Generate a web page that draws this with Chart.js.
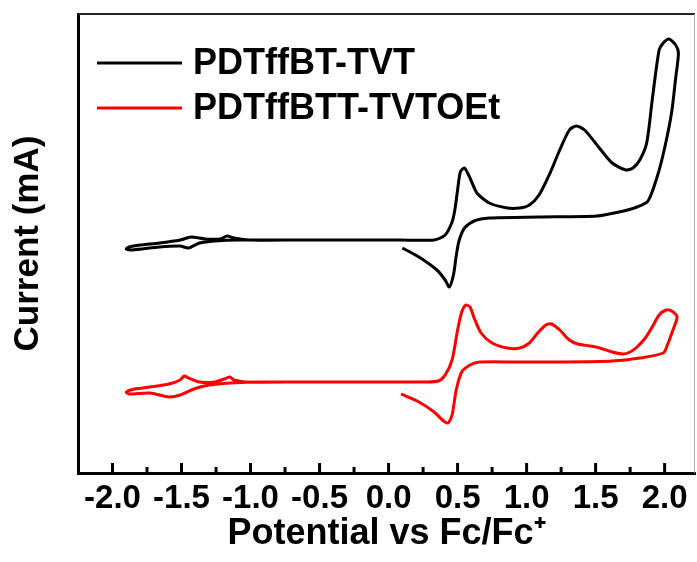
<!DOCTYPE html>
<html>
<head>
<meta charset="utf-8">
<script src="https://cdn.jsdelivr.net/npm/chart.js@4"></script>
<style>
    html, body { margin: 0; padding: 0; background: #fff; }
    #wrap { width: 697px; height: 562px; position: relative; }
</style>
</head>
<body>
<div id="wrap"><canvas id="cvChart"></canvas></div>
<script>
// 圖例文字
const seriesLabels = ['PDTffBT-TVT', 'PDTffBTT-TVTOEt'];
const seriesColors = ['#000000', '#ff0000'];

// X 軸刻度 (V vs Fc/Fc+)
const xTickValues = [-2.0, -1.5, -1.0, -0.5, 0.0, 0.5, 1.0, 1.5, 2.0];

// PDTffBT-TVT 掃描 (電位, 電流; 電流為任意偏移單位)
const tvtPotential = [
    0.10, 0.22, 0.35, 0.41, 0.44, 0.47, 0.49, 0.51, 0.55, 0.62, 0.73, 1.09, 1.51, 1.67, 1.80, 1.88,
    1.95, 2.00, 2.05, 2.08, 2.10, 2.08, 2.03, 1.99, 1.96, 1.91, 1.87, 1.82, 1.77, 1.72,
    1.62, 1.51, 1.42, 1.36, 1.31, 1.24, 1.17, 1.09, 1.02, 0.95, 0.86, 0.73, 0.64, 0.59,
    0.55, 0.52, 0.50, 0.48, 0.46, 0.41, 0.33, 0.08, -0.64, -1.01, -1.12, -1.17, -1.22,
    -1.33, -1.43, -1.51, -1.66, -1.80, -1.88, -1.90, -1.86, -1.66, -1.51, -1.45, -1.37,
    -1.26, -1.08, -0.64, 0.08
];
const tvtCurrent = [
    2.25, 2.16, 2.03, 1.93, 1.86, 1.98, 2.17, 2.32, 2.45, 2.52, 2.55, 2.56, 2.57, 2.61, 2.66, 2.72,
    2.98, 3.25, 3.60, 3.95, 4.20, 4.28, 4.34, 4.30, 4.23, 3.73, 3.30, 3.13, 3.05, 3.03,
    3.10, 3.28, 3.43, 3.47, 3.43, 3.23, 3.00, 2.78, 2.68, 2.65, 2.65, 2.70, 2.80, 2.95,
    3.05, 3.01, 2.83, 2.63, 2.51, 2.38, 2.33, 2.33, 2.33, 2.33, 2.35, 2.37, 2.34,
    2.34, 2.36, 2.33, 2.30, 2.28, 2.26, 2.24, 2.23, 2.26, 2.27, 2.25, 2.30,
    2.32, 2.33, 2.33, 2.33
];

// PDTffBTT-TVTOEt 掃描
const tvtoetPotential = [
    0.09, 0.22, 0.33, 0.39, 0.43, 0.46, 0.49, 0.53, 0.59, 0.66, 0.95, 1.24, 1.62, 1.82, 1.99,
    2.02, 2.06, 2.09, 2.05, 2.01, 1.96, 1.91, 1.86, 1.80, 1.75, 1.70, 1.62, 1.53, 1.46,
    1.37, 1.31, 1.24, 1.18, 1.14, 1.08, 1.02, 0.95, 0.86, 0.75, 0.67, 0.62, 0.59, 0.56,
    0.53, 0.50, 0.46, 0.41, 0.36, 0.26, 0.08, -0.64, -1.04, -1.12, -1.15, -1.19, -1.26,
    -1.37, -1.45, -1.48, -1.51, -1.59, -1.73, -1.84, -1.90, -1.88, -1.73, -1.59, -1.51,
    -1.41, -1.30, -1.15, -0.93, 0.08
];
const tvtoetCurrent = [
    0.79, 0.71, 0.61, 0.53, 0.50, 0.58, 0.83, 1.01, 1.08, 1.11, 1.11, 1.11, 1.12, 1.15, 1.20,
    1.28, 1.43, 1.56, 1.62, 1.63, 1.58, 1.46, 1.35, 1.26, 1.21, 1.19, 1.21, 1.25, 1.27,
    1.29, 1.33, 1.43, 1.49, 1.48, 1.40, 1.30, 1.25, 1.25, 1.30, 1.40, 1.55, 1.66, 1.68,
    1.61, 1.43, 1.13, 0.98, 0.92, 0.91, 0.91, 0.91, 0.91, 0.93, 0.96, 0.94, 0.91,
    0.91, 0.95, 0.97, 0.93, 0.89, 0.86, 0.84, 0.81, 0.79, 0.80, 0.76, 0.78,
    0.84, 0.88, 0.90, 0.91, 0.91
];

const FONT = '"Liberation Sans", Arial, sans-serif';

function toPoints(xs, ys) {
    return xs.map((x, i) => ({ x: x, y: ys[i] }));
}

// 圖框內的圖例
const insideLegend = {
    id: 'insideLegend',
    afterDatasetsDraw(chart) {
        const { ctx, chartArea } = chart;
        ctx.save();
        ctx.font = 'bold 36px ' + FONT;
        ctx.textBaseline = 'middle';
        ctx.fillStyle = '#000';
        chart.data.datasets.forEach((ds, i) => {
            const y = chartArea.top + 49 + i * 45;
            ctx.strokeStyle = ds.borderColor;
            ctx.lineWidth = 3;
            ctx.beginPath();
            ctx.moveTo(chartArea.left + 19, y);
            ctx.lineTo(chartArea.left + 104, y);
            ctx.stroke();
            ctx.fillText(ds.label, chartArea.left + 115, y + 1);
        });
        ctx.restore();
    }
};

// 向內的刻度線 + 上/右框線
const frameTicks = {
    id: 'frameTicks',
    afterDraw(chart) {
        const { ctx, chartArea } = chart;
        const xs = chart.scales.x;
        ctx.save();
        ctx.strokeStyle = '#000';
        ctx.lineWidth = 3;
        const mark = (v, len) => {
            const px = xs.getPixelForValue(v);
            ctx.beginPath();
            ctx.moveTo(px, chartArea.bottom);
            ctx.lineTo(px, chartArea.bottom - len);
            ctx.stroke();
        };
        xTickValues.forEach((v, i) => {
            mark(v, 10);
            if (i < xTickValues.length - 1) mark((v + xTickValues[i + 1]) / 2, 6);
        });
        ctx.strokeStyle = '#222';
        ctx.lineWidth = 2;
        ctx.beginPath();
        ctx.moveTo(chartArea.left, chartArea.top);
        ctx.lineTo(chartArea.right, chartArea.top);
        ctx.stroke();
        ctx.strokeStyle = '#b0b0b0';
        ctx.lineWidth = 1;
        ctx.beginPath();
        ctx.moveTo(chartArea.right - 0.5, chartArea.top);
        ctx.lineTo(chartArea.right - 0.5, chartArea.bottom);
        ctx.stroke();
        ctx.restore();
    }
};

const ctx = document.getElementById('cvChart').getContext('2d');
new Chart(ctx, {
    type: 'line',
    data: {
        datasets: [
            {
                label: seriesLabels[0],
                data: toPoints(tvtPotential, tvtCurrent),
                borderColor: seriesColors[0],
                borderWidth: 3,
                pointRadius: 0,
                tension: 0.25,
                fill: false
            },
            {
                label: seriesLabels[1],
                data: toPoints(tvtoetPotential, tvtoetCurrent),
                borderColor: seriesColors[1],
                borderWidth: 3,
                pointRadius: 0,
                tension: 0.25,
                fill: false
            }
        ]
    },
    options: {
        responsive: true,
        maintainAspectRatio: false,
        animation: false,
        layout: { padding: { top: 14, right: 2, left: 0, bottom: 0 } },
        plugins: {
            legend: { display: false },
            tooltip: { enabled: false }
        },
        scales: {
            x: {
                type: 'linear',
                min: -2.25,
                max: 2.22,
                afterBuildTicks: (scale) => {
                    scale.ticks = xTickValues.map(v => ({ value: v }));
                },
                afterFit: (scale) => { scale.height = 89; },
                ticks: {
                    color: '#000',
                    padding: 6,
                    maxRotation: 0,
                    autoSkip: false,
                    font: { family: FONT, size: 33, weight: 'bold' },
                    callback: (v) => Number(v).toFixed(1)
                },
                grid: { display: false, drawTicks: false },
                border: { display: true, color: '#000', width: 3 },
                title: {
                    display: true,
                    text: 'Potential vs Fc/Fc⁺',
                    color: '#000',
                    font: { family: FONT, size: 36, weight: 'bold' },
                    padding: { top: 0, bottom: 6 }
                }
            },
            y: {
                type: 'linear',
                min: 0,
                max: 4.59,
                afterFit: (scale) => { scale.width = 78; },
                ticks: { display: false },
                grid: { display: false, drawTicks: false },
                border: { display: true, color: '#000', width: 3 },
                title: {
                    display: true,
                    text: 'Current (mA)',
                    color: '#000',
                    font: { family: FONT, size: 35, weight: 'bold' },
                    padding: { top: 7, bottom: 0 }
                }
            }
        }
    },
    plugins: [insideLegend, frameTicks]
});
</script>
</body>
</html>
